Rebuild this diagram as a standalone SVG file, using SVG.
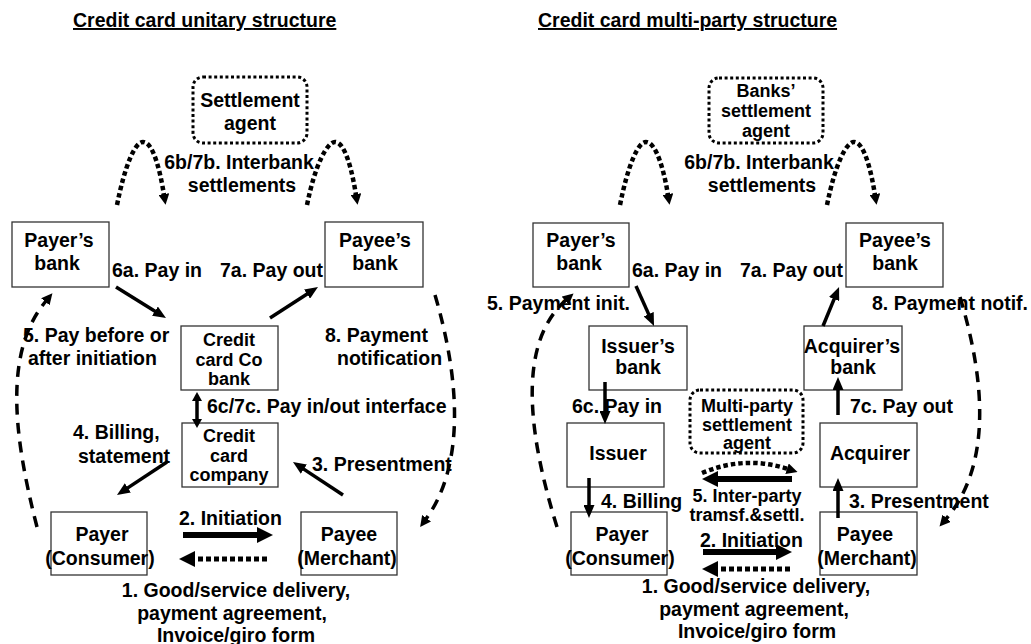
<svg xmlns="http://www.w3.org/2000/svg" width="1031" height="644" viewBox="0 0 1031 644">
<style>
text{font-family:"Liberation Sans",Arial,sans-serif;font-weight:bold;font-size:19.5px;fill:#000}
.m{text-anchor:middle}
.t{font-size:18px}
.title{text-decoration:underline}
.box{fill:#fff;stroke:#333;stroke-width:1.3}
.dbox{fill:none;stroke:#000;stroke-width:3;stroke-dasharray:3 2.6}
.arr{fill:none;stroke:#000;stroke-width:3.5}
.thick{fill:none;stroke:#000;stroke-width:6}
.dotl{fill:none;stroke:#000;stroke-width:5;stroke-dasharray:5 3}
.arc{fill:none;stroke:#000;stroke-width:4.5;stroke-dasharray:4.5 3}
.dash{fill:none;stroke:#000;stroke-width:3.5;stroke-dasharray:11 8}
</style>
<defs>
<marker id="ah" viewBox="0 0 13 11" refX="1" refY="5.5" markerWidth="13" markerHeight="11" markerUnits="userSpaceOnUse" orient="auto-start-reverse"><path d="M0,0 L13,5.5 L0,11 z"/></marker>
<marker id="ahs" viewBox="0 0 9 10" refX="1" refY="5" markerWidth="9" markerHeight="10" markerUnits="userSpaceOnUse" orient="auto-start-reverse"><path d="M0,0 L9,5 L0,10 z"/></marker>
<marker id="aht" viewBox="0 0 16 16" refX="1" refY="8" markerWidth="16" markerHeight="16" markerUnits="userSpaceOnUse" orient="auto"><path d="M0,0 L16,8 L0,16 z"/></marker>
<marker id="ahd" viewBox="0 0 11 11" refX="1" refY="5.5" markerWidth="11" markerHeight="11" markerUnits="userSpaceOnUse" orient="auto"><path d="M0,0 L11,5.5 L0,11 z"/></marker>
</defs>

<text x="73" y="27" class="title">Credit card unitary structure</text>
<text x="538" y="27" class="title">Credit card multi-party structure</text>

<!-- left panel nodes -->
<g id="settlement-agent">
<rect class="dbox" x="193" y="77" width="114" height="66" rx="10"/>
<text class="m" x="250" y="107">Settlement</text>
<text class="m" x="250" y="130">agent</text>
</g>
<g id="payers-bank-l">
<rect class="box" x="12" y="222" width="97" height="65"/>
<text class="m" x="59" y="247">Payer’s</text>
<text class="m" x="57" y="270">bank</text>
</g>
<g id="payees-bank-l">
<rect class="box" x="325" y="222" width="98" height="65"/>
<text class="m" x="375" y="247">Payee’s</text>
<text class="m" x="375" y="270">bank</text>
</g>
<g id="cc-co-bank">
<rect class="box" x="181" y="326" width="97" height="64"/>
<text class="m t" x="229" y="346">Credit</text>
<text class="m t" x="229" y="366">card Co</text>
<text class="m t" x="229" y="385">bank</text>
</g>
<g id="cc-company">
<rect class="box" x="182" y="423" width="96" height="64"/>
<text class="m t" x="229" y="442">Credit</text>
<text class="m t" x="229" y="462">card</text>
<text class="m t" x="229" y="481">company</text>
</g>
<g id="payer-l">
<rect class="box" x="51" y="512" width="96" height="63"/>
<text class="m" x="102" y="541">Payer</text>
<text class="m" x="100" y="565">(Consumer)</text>
</g>
<g id="payee-l">
<rect class="box" x="301" y="512" width="96" height="63"/>
<text class="m" x="349" y="541">Payee</text>
<text class="m" x="347" y="565">(Merchant)</text>
</g>
<g id="labels-l">
<text class="m" x="239" y="169">6b/7b. Interbank</text>
<text class="m" x="242" y="192">settlements</text>
<text x="112" y="277">6a. Pay in</text>
<text x="220" y="277">7a. Pay out</text>
<text x="23" y="342">5. Pay before or</text>
<text x="28" y="365">after initiation</text>
<text x="325" y="342">8. Payment</text>
<text x="337" y="365">notification</text>
<text x="207" y="413">6c/7c. Pay in/out interface</text>
<text x="73" y="439">4. Billing,</text>
<text x="78" y="463">statement</text>
<text x="312" y="471">3. Presentment</text>
<text x="179" y="525">2. Initiation</text>
<text class="m" x="236" y="597">1. Good/service delivery,</text>
<text class="m" x="232" y="620">payment agreement,</text>
<text class="m" x="236" y="642">Invoice/giro form</text>
</g>

<!-- right panel nodes -->
<g id="banks-settlement-agent">
<rect class="dbox" x="709" y="78" width="114" height="65" rx="10"/>
<text class="m t" x="766" y="97">Banks’</text>
<text class="m t" x="766" y="117">settlement</text>
<text class="m t" x="766" y="137">agent</text>
</g>
<g id="payers-bank-r">
<rect class="box" x="533" y="223" width="96" height="64"/>
<text class="m" x="581" y="247">Payer’s</text>
<text class="m" x="579" y="270">bank</text>
</g>
<g id="payees-bank-r">
<rect class="box" x="846" y="223" width="97" height="64"/>
<text class="m" x="895" y="247">Payee’s</text>
<text class="m" x="895" y="270">bank</text>
</g>
<g id="issuers-bank">
<rect class="box" x="589" y="326" width="98" height="64"/>
<text class="m" x="638" y="353">Issuer’s</text>
<text class="m" x="638" y="374">bank</text>
</g>
<g id="acquirers-bank">
<rect class="box" x="804" y="326" width="98" height="64"/>
<text class="m" x="852" y="353">Acquirer’s</text>
<text class="m" x="853" y="374">bank</text>
</g>
<g id="multi-party-agent">
<rect class="dbox" x="690" y="390" width="113" height="63" rx="10"/>
<text class="m t" x="747" y="412">Multi-party</text>
<text class="m t" x="747" y="431">settlement</text>
<text class="m t" x="747" y="449">agent</text>
</g>
<g id="issuer">
<rect class="box" x="567" y="423" width="97" height="64"/>
<text class="m" x="618" y="460">Issuer</text>
</g>
<g id="acquirer">
<rect class="box" x="820" y="423" width="97" height="64"/>
<text class="m" x="870" y="460">Acquirer</text>
</g>
<g id="payer-r">
<rect class="box" x="571" y="512" width="96" height="63"/>
<text class="m" x="622" y="541">Payer</text>
<text class="m" x="620" y="565">(Consumer)</text>
</g>
<g id="payee-r">
<rect class="box" x="820" y="512" width="97" height="63"/>
<text class="m" x="865" y="541">Payee</text>
<text class="m" x="867" y="565">(Merchant)</text>
</g>
<g id="labels-r">
<text class="m" x="759" y="169">6b/7b. Interbank</text>
<text class="m" x="762" y="192">settlements</text>
<text x="632" y="277">6a. Pay in</text>
<text x="740" y="277">7a. Pay out</text>
<text x="487" y="310">5. Payment init.</text>
<text x="872" y="310">8. Payment notif.</text>
<text x="572" y="413">6c. Pay in</text>
<text x="850" y="413">7c. Pay out</text>
<text class="m t" x="747" y="502">5. Inter-party</text>
<text class="m t" x="747" y="521">tramsf.&amp;settl.</text>
<text x="601" y="508">4. Billing</text>
<text x="849" y="508">3. Presentment</text>
<text x="700" y="547">2. Initiation</text>
<text class="m" x="756" y="593">1. Good/service delivery,</text>
<text class="m" x="754" y="616">payment agreement,</text>
<text class="m" x="757" y="638">Invoice/giro form</text>
</g>

<g id="connectors">
<!-- left panel -->
<path class="arc" d="M117,205 C125,165 135,142 143,142 C153,142 160,170 164,195" marker-end="url(#ahd)"/>
<path class="arc" d="M307,205 C315,165 327,142 335,142 C345,142 352,170 356,195" marker-end="url(#ahd)"/>
<line class="arr" x1="116" y1="287" x2="155.8" y2="311.7" marker-end="url(#ah)"/>
<line class="arr" x1="270" y1="318" x2="307.9" y2="293.5" marker-end="url(#ah)"/>
<line class="arr" x1="197" y1="400" x2="197" y2="420" marker-start="url(#ahs)" marker-end="url(#ahs)"/>
<line class="arr" x1="167" y1="462" x2="127" y2="488.4" marker-end="url(#ah)"/>
<line class="arr" x1="343" y1="495" x2="303" y2="468.6" marker-end="url(#ah)"/>
<line class="thick" x1="183" y1="535" x2="258" y2="535" marker-end="url(#aht)"/>
<line class="dotl" x1="267" y1="559" x2="194" y2="559" marker-end="url(#aht)"/>
<path class="dash" d="M37,527 C12,430 5,350 46,301" marker-end="url(#ahd)"/>
<path class="dash" d="M435,295 C460,380 465,465 426,519" marker-end="url(#ahd)"/>
<!-- right panel -->
<path class="arc" d="M620,205 C628,165 638,142 646,142 C656,142 664,170 668,195" marker-end="url(#ahd)"/>
<path class="arc" d="M827,205 C835,165 846,142 854,142 C864,142 871,170 875,195" marker-end="url(#ahd)"/>
<line class="arr" x1="636" y1="286" x2="649.1" y2="315.1" marker-end="url(#ah)"/>
<line class="arr" x1="823" y1="326" x2="834.5" y2="298.1" marker-end="url(#ah)"/>
<line class="arr" x1="605" y1="382" x2="605" y2="412" marker-end="url(#ah)"/>
<line class="arr" x1="838" y1="415" x2="838" y2="389" marker-end="url(#ah)"/>
<line class="arr" x1="589" y1="478" x2="589" y2="506" marker-end="url(#ah)"/>
<line class="arr" x1="838" y1="518" x2="838" y2="490" marker-end="url(#ah)"/>
<path class="arc" d="M702,473 Q745,455 788,469" marker-end="url(#ahd)"/>
<line class="thick" x1="792" y1="479" x2="717" y2="479" marker-end="url(#aht)"/>
<line class="thick" x1="703" y1="552" x2="777" y2="552" marker-end="url(#aht)"/>
<line class="dotl" x1="790" y1="569" x2="717" y2="569" marker-end="url(#aht)"/>
<path class="dash" d="M557,527 C530,440 515,345 566,300" marker-end="url(#ahd)"/>
<path class="dash" d="M960,297 C985,380 992,465 946,519" marker-end="url(#ahd)"/>
</g>
</svg>
